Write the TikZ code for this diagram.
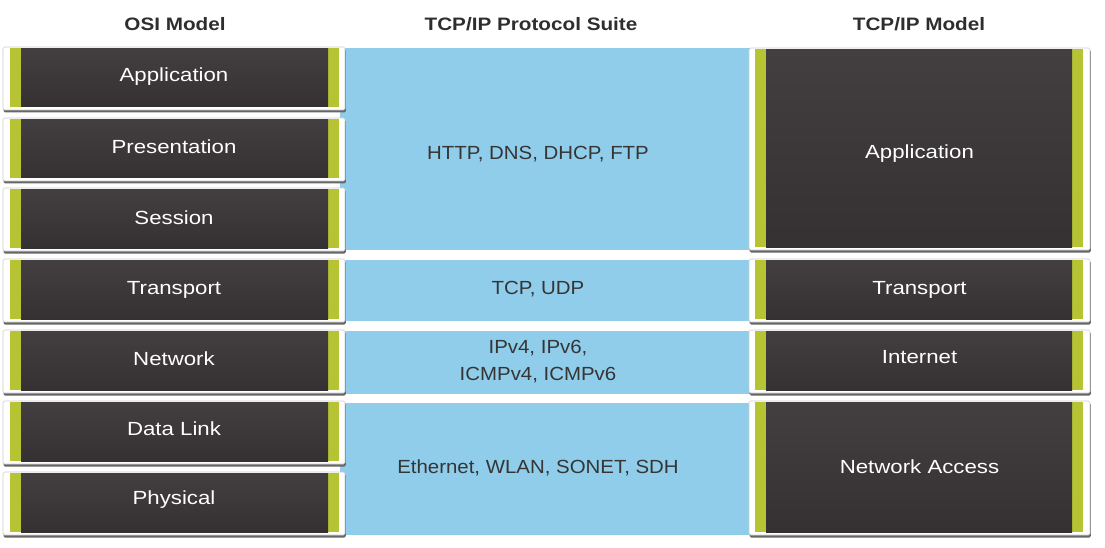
\documentclass[tikz,border=0pt]{standalone}
\usepackage{fontspec}
\setmainfont{Liberation Sans}[FakeStretch=1.15]
\newfontfamily\layerfont{Liberation Sans}[FakeStretch=1.17]
\newfontfamily\bandfont{Liberation Sans}[FakeStretch=1.075]
\definecolor{bandblue}{HTML}{8FCDEA}
\definecolor{stripe}{HTML}{B6C433}
\definecolor{darktop}{HTML}{433E40}
\definecolor{darkbot}{HTML}{353132}
\definecolor{shadowc}{HTML}{666666}
\definecolor{headc}{HTML}{2E2E2E}
\definecolor{bandtext}{HTML}{353535}
\tikzset{
  layertext/.style={text=white,font=\layerfont\fontsize{19}{22}\selectfont,inner sep=0pt,anchor=base},
  bandlabel/.style={text=bandtext,font=\bandfont\fontsize{19}{27}\selectfont,align=center,inner sep=0pt},
  header/.style={text=headc,font=\fontsize{18}{21}\selectfont\bfseries,inner sep=0pt,anchor=base},
  band/.style={fill=bandblue},
  frame/.style={fill=white,draw=gray!40,line width=0.6pt,rounded corners=1.5pt},
}
% name, x1, y1, x2, y2, left stripe inset, right stripe inset, text, text baseline
\newcommand\layerbox[9]{%
  \fill[shadowc,rounded corners=1.5pt] ({#2+0.5},{#3+2}) rectangle ({#4+0.8},{#5+2.5});
  \path[frame] (#2,#3) rectangle (#4,#5);
  \fill[stripe] ({#2+#6},{#3+1.2}) rectangle ({#4-#7},{#5-3});
  \shade[top color=darktop,bottom color=darkbot] ({#2+#6+11},{#3+1.2}) rectangle ({#4-#7-11},{#5-3});
  \node[layertext] (#1) at ({(#2+#4)/2},#9) {#8};
}
\begin{document}
\begin{tikzpicture}[x=1pt,y=-1pt]
\useasboundingbox (0,0) rectangle (1105,548);
% headers
\node[header] (hosi) at (175,31) {OSI Model};
\node[header] (hsuite) at (531,31) {TCP/IP Protocol Suite};
\node[header] (htcp) at (919,31) {TCP/IP Model};
% blue bands
\fill[band] (340,48) rectangle (755,250);
\fill[band] (340,260) rectangle (755,321);
\fill[band] (340,331) rectangle (755,394);
\fill[band] (340,403) rectangle (755,535);
\node[bandlabel] (p1) at (538,154) {HTTP, DNS, DHCP, FTP};
\node[bandlabel] (p2) at (538,289) {TCP, UDP};
\node[bandlabel] (p3) at (538,362) {IPv4, IPv6,\\ICMPv4, ICMPv6};
\node[bandlabel] (p4) at (538,468) {Ethernet, WLAN, SONET, SDH};
% OSI layers
\layerbox{o7}{3}{47}{345}{110}{7}{6}{Application}{82}
\layerbox{o6}{3}{118}{345}{181}{7}{6}{Presentation}{154}
\layerbox{o5}{3}{188}{345}{251}{7}{6}{Session}{224}
\layerbox{o4}{3}{259}{345}{322}{7}{6}{Transport}{294}
\layerbox{o3}{3}{330}{345}{393}{7}{6}{Network}{365}
\layerbox{o2}{3}{401}{345}{464}{7}{6}{Data Link}{435}
\layerbox{o1}{3}{472}{345}{535}{7}{6}{Physical}{504}
% TCP/IP model layers
\layerbox{t4}{749}{48}{1090}{250}{6}{7}{Application}{159}
\layerbox{t3}{749}{259}{1090}{322}{6}{7}{Transport}{294}
\layerbox{t2}{749}{330}{1090}{393}{6}{7}{Internet}{363}
\layerbox{t1}{749}{401}{1090}{535}{6}{7}{Network Access}{473}
\end{tikzpicture}
\end{document}
